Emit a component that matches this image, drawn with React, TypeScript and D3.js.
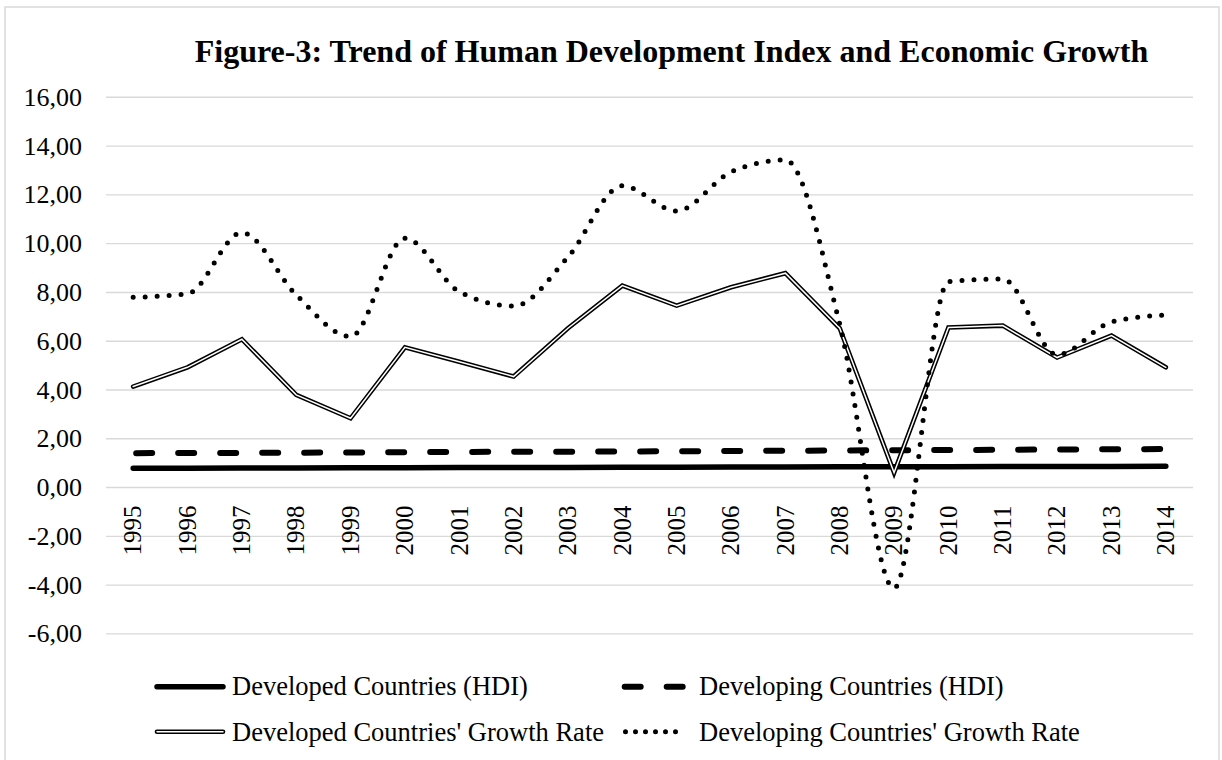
import React from 'react';
import * as d3 from 'd3';

const years = ['1995', '1996', '1997', '1998', '1999', '2000', '2001', '2002', '2003', '2004',
  '2005', '2006', '2007', '2008', '2009', '2010', '2011', '2012', '2013', '2014'];

const developedHdi = [0.79, 0.79, 0.80, 0.80, 0.81, 0.81, 0.82, 0.82, 0.82, 0.83,
  0.83, 0.84, 0.84, 0.85, 0.85, 0.85, 0.86, 0.86, 0.86, 0.87];
const developingHdi = [1.41, 1.42, 1.42, 1.43, 1.44, 1.45, 1.46, 1.47, 1.47, 1.48,
  1.49, 1.50, 1.51, 1.52, 1.53, 1.54, 1.55, 1.56, 1.57, 1.58];
const developedGrowth = [4.14, 4.93, 6.08, 3.80, 2.84, 5.75, 5.16, 4.55, 6.53, 8.28,
  7.46, 8.21, 8.79, 6.53, 0.61, 6.56, 6.64, 5.33, 6.23, 4.93];
const developingGrowth = [7.80, 7.95, 10.45, 7.90, 6.19, 10.22, 8.03, 7.44, 9.45, 12.37,
  11.34, 12.94, 13.43, 6.70, -4.13, 8.44, 8.55, 5.44, 6.79, 7.08];

const yTicks = [-6, -4, -2, 0, 2, 4, 6, 8, 10, 12, 14, 16];

const title = 'Figure-3: Trend of Human Development Index and Economic Growth';
const legendNames = [
  'Developed Countries (HDI)',
  'Developing Countries (HDI)',
  "Developed Countries' Growth Rate",
  "Developing Countries' Growth Rate",
];

const FONT = "'Liberation Serif', 'Times New Roman', serif";

const fmt = (v: number) => v.toFixed(2).replace('.', ',');

export default function App() {
  const width = 1222;
  const height = 760;

  const x = d3.scaleBand<string>().domain(years).range([106, 1193]);
  const y = d3.scaleLinear().domain([-6, 16]).range([633.9, 97.3]);
  const cx = (i: number) => (x(years[i]) as number) + x.bandwidth() / 2;

  const straight = d3.line<number>().x((_, i) => cx(i)).y(d => y(d));
  // excel-style smoothing, no big overshoot around the peaks
  const smooth = d3.line<number>().x((_, i) => cx(i)).y(d => y(d)).curve(d3.curveMonotoneX);

  const leg1 = { sx: 157, tx: 232 };
  const leg2 = { sx: 624.7, tx: 699 };
  const row1 = 686.7;
  const row2 = 731.7;

  return (
    <svg width={width} height={height} style={{ position: 'absolute', left: 0, top: 0, background: '#fff' }}
      fontFamily={FONT}>
      <rect x={5} y={7} width={1214} height={800} fill="#fff" stroke="#d9d9d9" strokeWidth={1.5} />

      <text x={671.5} y={62} textAnchor="middle" fontWeight="bold" fontSize={32} fill="#000">{title}</text>

      <g>
        {yTicks.map(t => (
          <g key={t}>
            <line x1={106} x2={1193} y1={y(t)} y2={y(t)} stroke="#d9d9d9" strokeWidth={1.4} />
            <text x={82} y={y(t)} dy="0.33em" textAnchor="end" fontSize={26} fill="#000">{fmt(t)}</text>
          </g>
        ))}
      </g>

      <g>
        {years.map((yr, i) => (
          <text key={yr} transform={`translate(${cx(i)},${y(0) + 18}) rotate(-90)`} dy="0.33em"
            textAnchor="end" fontSize={25} fill="#000">{yr}</text>
        ))}
      </g>

      <path d={straight(developedHdi) || ''} fill="none" stroke="#000" strokeWidth={5.5} strokeLinecap="round" />
      <path d={straight(developingHdi) || ''} fill="none" stroke="#000" strokeWidth={6}
        strokeDasharray="16 26" strokeLinecap="round" transform="translate(3,0)" />
      <path d={straight(developedGrowth) || ''} fill="none" stroke="#000" strokeWidth={4.6}
        strokeLinejoin="miter" strokeLinecap="round" />
      <path d={straight(developedGrowth) || ''} fill="none" stroke="#fff" strokeWidth={1.5}
        strokeLinejoin="miter" strokeLinecap="round" />
      <path d={smooth(developingGrowth) || ''} fill="none" stroke="#000" strokeWidth={5}
        strokeDasharray="0 12" strokeLinecap="round" />

      <g fontSize={26.5} fill="#000">
        <line x1={leg1.sx} x2={leg1.sx + 66} y1={row1} y2={row1} stroke="#000" strokeWidth={5.5} strokeLinecap="round" />
        <text x={leg1.tx} y={row1 + 8.5}>{legendNames[0]}</text>

        <line x1={leg2.sx} x2={leg2.sx + 62} y1={row1} y2={row1} stroke="#000" strokeWidth={6}
          strokeDasharray="16 26" strokeLinecap="round" />
        <text x={leg2.tx} y={row1 + 8.5}>{legendNames[1]}</text>

        <line x1={leg1.sx} x2={leg1.sx + 66} y1={row2} y2={row2} stroke="#000" strokeWidth={4.6} strokeLinecap="round" />
        <line x1={leg1.sx} x2={leg1.sx + 66} y1={row2} y2={row2} stroke="#fff" strokeWidth={1.5} strokeLinecap="round" />
        <text x={leg1.tx} y={row2 + 9}>{legendNames[2]}</text>

        <line x1={625.5} x2={685.5} y1={row2} y2={row2} stroke="#000" strokeWidth={5}
          strokeDasharray="0 10" strokeLinecap="round" />
        <text x={leg2.tx} y={row2 + 9}>{legendNames[3]}</text>
      </g>
    </svg>
  );
}
